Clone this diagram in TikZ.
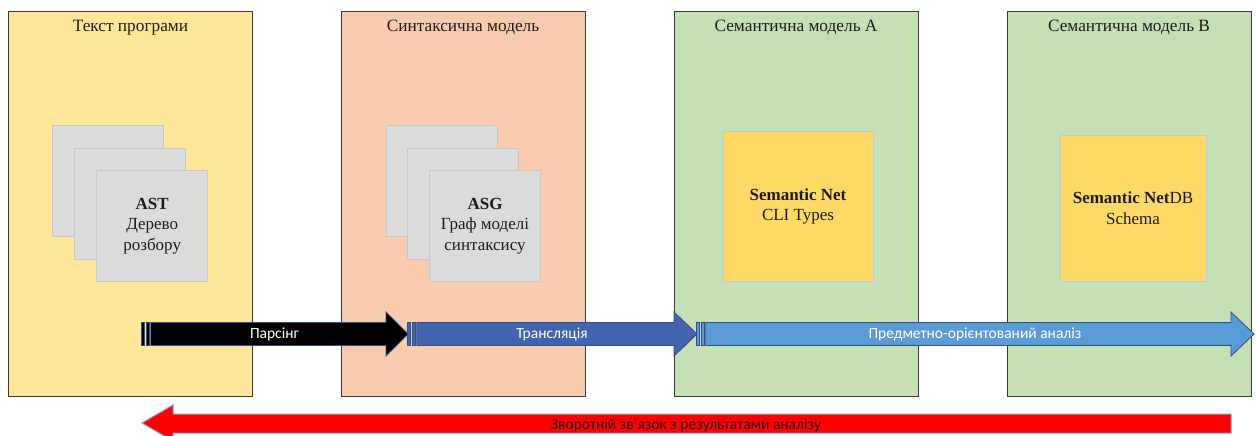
\documentclass[tikz,border=0pt]{standalone}
\usepackage{fontspec}
\setmainfont{Liberation Serif}
\newfontfamily\labelfont{Carlito}

\definecolor{panelYellow}{HTML}{FFE699}
\definecolor{panelPeach}{HTML}{F8CBAD}
\definecolor{panelGreen}{HTML}{C5E0B4}
\definecolor{panelEdge}{HTML}{3A3A3A}
\definecolor{cardGrey}{HTML}{DBDBDB}
\definecolor{cardEdge}{HTML}{C8C8C8}
\definecolor{cardGold}{HTML}{FFD966}
\definecolor{navyEdge}{HTML}{2F4F8A}
\definecolor{midBlue}{HTML}{4164AE}
\definecolor{lightBlue}{HTML}{5B9BD5}
\definecolor{feedbackRed}{HTML}{FF0000}
\definecolor{feedbackEdge}{HTML}{8C9DBF}
\definecolor{inkDark}{HTML}{1C1C1C}

% Draws a striped block arrow: #1 tail x, #2 head base x, #3 tip x, #4 style
\newcommand\stripedArrow[4]{%
  \draw[#4] (#1,322.5) rectangle (#1+3.8,345.5);
  \draw[#4] (#1+4.9,322.5) rectangle (#1+8.7,345.5);
  \draw[#4] (#1+9.8,322.5) -- (#2,322.5) -- (#2,312) -- (#3,334)
        -- (#2,356) -- (#2,345.5) -- (#1+9.8,345.5) -- cycle;
}

\begin{document}
\begin{tikzpicture}[x=1pt,y=-1pt,
  panel/.style={draw=panelEdge, line width=0.9pt, minimum width=244,
    minimum height=385, anchor=north west, inner sep=0pt, outer sep=0pt},
  paneltitle/.style={font=\fontsize{17.3}{20}\selectfont, text=inkDark},
  card/.style={draw=cardEdge, fill=cardGrey, line width=0.8pt,
    minimum size=111, inner sep=0pt},
  goldcard/.style={draw=cardEdge, fill=cardGold, line width=0.8pt, inner sep=0pt},
  cardtext/.style={align=center, text=inkDark,
    font=\fontsize{17}{20.8}\selectfont},
  flowlabel/.style={text=white, font=\labelfont\fontsize{15.5}{17}\selectfont},
  flowarrow/.style={draw=navyEdge, line width=0.8pt, line join=miter}
]
\useasboundingbox (0,0) rectangle (1256,436);
\clip (0,0) rectangle (1256,436);

% ---- stage panels ----
\node[panel, fill=panelYellow] (p1) at (8,11) {};
\node[panel, fill=panelPeach]  (p2) at (341,11) {};
\node[panel, fill=panelGreen]  (p3) at (674,11) {};
\node[panel, fill=panelGreen]  (p4) at (1007,11) {};

\node[paneltitle] (t1) at (130.5,27.5) {Текст програми};
\node[paneltitle] (t2) at (463,27.5) {Синтаксична модель};
\node[paneltitle] (t3) at (796,27.5) {Семантична модель A};
\node[paneltitle] (t4) at (1129,27.5) {Семантична модель B};

% ---- stacked parse-tree cards ----
\node[card] (ast1) at (108.3,181.2) {};
\node[card] (ast2) at (130.2,203.5) {};
\node[card] (ast3) at (152.2,226.2) {};
\node[cardtext] (astlbl) at (ast3) {\textbf{AST}\\Дерево\\розбору};

% ---- stacked syntax-graph cards ----
\node[card] (asg1) at (441.7,181.2) {};
\node[card] (asg2) at (463,203.5) {};
\node[card] (asg3) at (485,226.2) {};
\node[cardtext] (asglbl) at (asg3) {\textbf{ASG}\\Граф моделі\\синтаксису};

% ---- semantic model cards ----
\node[goldcard, minimum size=150] (semA) at (798,206.5) {};
\node[cardtext] (semAlbl) at (semA) {\textbf{Semantic Net}\\CLI Types};
\node[goldcard, minimum size=146] (semB) at (1133,208.5) {};
\node[cardtext] (semBlbl) at (semB) {\textbf{Semantic Net}DB\\Schema};

% ---- processing arrows ----
\stripedArrow{141}{386}{408}{flowarrow, fill=black}
\node[flowlabel] (parse) at (274.5,334) {Парсінг};

\stripedArrow{407}{674}{697}{flowarrow, fill=midBlue}
\node[flowlabel] (translate) at (552,334) {Трансляція};

\stripedArrow{696}{1231}{1254}{flowarrow, fill=lightBlue}
\node[flowlabel] (domain) at (975,334) {Предметно-орієнтований аналіз};

% ---- feedback arrow ----
\draw[draw=feedbackEdge, fill=feedbackRed, line width=1pt]
  (1231,414) -- (173,414) -- (173,405) -- (142,423) -- (173,441)
  -- (173,433) -- (1231,433) -- cycle;
\node[text=inkDark, font=\labelfont\fontsize{15.5}{17}\selectfont]
  (feedback) at (686,425.5) {Зворотній зв’язок з результатами аналізу};
\end{tikzpicture}
\end{document}
